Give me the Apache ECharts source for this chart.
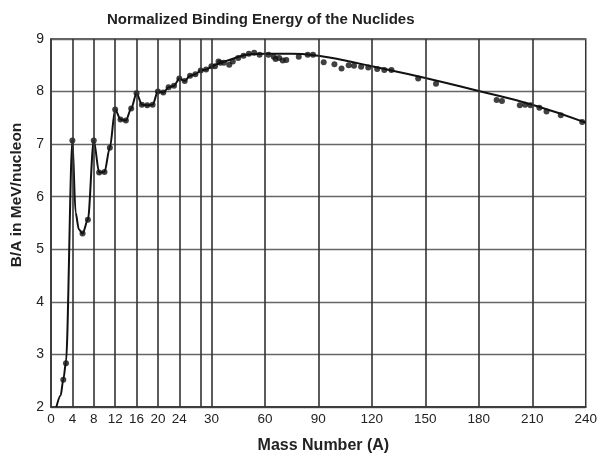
<!DOCTYPE html>
<html>
<head>
<meta charset="utf-8">
<script src="https://cdn.jsdelivr.net/npm/echarts@6/dist/echarts.min.js"></script>
<style>
  html, body { margin: 0; padding: 0; background: #fff; }
  #chart { width: 600px; height: 459px; }
</style>
</head>
<body>
<div id="chart"></div>
<script>
// ---------- data ----------
// curve through the light nuclides (mass number A, B/A in MeV)
const lightCurveA  = [1, 1.8, 2.3, 2.8, 4, 4.6, 5.2, 5.9, 6.9, 8, 9, 10, 11, 12, 13, 14, 15, 16, 17, 18, 19, 20,
                      21, 22, 23, 24, 25, 26, 27, 28, 29, 30];
const lightCurveBE = [2.0, 2.22, 2.52, 2.85, 7.07, 5.7, 5.38, 5.3, 5.56, 7.07, 6.46, 6.47, 6.93, 7.66, 7.47, 7.45, 7.68, 7.97, 7.75, 7.74, 7.75, 8.0,
                      7.98, 8.08, 8.11, 8.25, 8.2, 8.3, 8.33, 8.4, 8.42, 8.48];
// smooth curve for the heavier ones
const heavyCurveA  = [30, 40, 52, 60, 75, 90, 105, 120, 150, 180, 210, 240];
const heavyCurveBE = [8.48, 8.6, 8.71, 8.72, 8.72, 8.68, 8.59, 8.48, 8.26, 8.01, 7.75, 7.41];

// measured points
const pointA  = [2.3, 2.8, 4, 5.9, 6.9, 8, 9, 10, 11, 12, 13, 14, 15, 16, 17, 18, 19, 20, 21, 22,
                 23, 24, 25, 26, 27, 28, 29, 30, 32, 34, 35, 37, 40, 42, 45, 48, 51, 54, 57,
                 62, 65, 66, 68, 70, 72, 79, 84, 87, 93, 99, 103, 107, 110, 114, 118, 123,
                 127, 131, 146, 156, 190, 193, 203, 206, 209, 214, 218, 226, 238];
const pointBE = [2.52, 2.83, 7.07, 5.3, 5.56, 7.07, 6.46, 6.47, 6.93, 7.66, 7.47, 7.45, 7.68, 7.97, 7.75, 7.74, 7.75, 8.0, 7.98, 8.08,
                 8.11, 8.25, 8.2, 8.3, 8.33, 8.4, 8.42, 8.48, 8.48, 8.57, 8.55, 8.55, 8.51, 8.57, 8.64, 8.68, 8.72, 8.74, 8.7,
                 8.7, 8.66, 8.62, 8.64, 8.59, 8.6, 8.66, 8.7, 8.7, 8.56, 8.52, 8.44, 8.5, 8.49, 8.47, 8.46, 8.43,
                 8.41, 8.41, 8.25, 8.15, 7.84, 7.82, 7.74, 7.75, 7.74, 7.69, 7.62, 7.55, 7.42];

// axis labels and vertical grid lines (in mass number)
const xTickA = [0, 4, 8, 12, 16, 20, 24, 30, 60, 90, 120, 150, 180, 210, 240];
const xGridA = [4, 8, 12, 16, 20, 24, 28, 30, 60, 90, 120, 150, 180, 210];

// the x scale is stretched below A = 30 (30 units of A above 30 take the room of 10)
function toU(a) { return a <= 30 ? a : 30 + (a - 30) / 3; }
function toA(u) { return u <= 30 ? u : 30 + (u - 30) * 3; }

var chart = echarts.init(document.getElementById('chart'));

const option = {
  animation: false,
  title: {
    text: 'Normalized Binding Energy of the Nuclides',
    left: 102,
    top: 7,
    textStyle: { fontFamily: 'Liberation Sans', fontSize: 15, fontWeight: 'bold', color: '#222' }
  },
  grid: {
    left: 51, right: 12, top: 39, bottom: 46,
    show: true, borderColor: '#333', borderWidth: 1.5
  },
  xAxis: {
    type: 'value',
    min: 0, max: 100, interval: 2,
    name: 'Mass Number (A)',
    nameLocation: 'middle',
    nameGap: 31,
    nameTextStyle: { fontFamily: 'Liberation Sans', fontSize: 16, fontWeight: 'bold', color: '#222', padding: [0, 0, 0, 10] },
    axisLine: { lineStyle: { color: '#333', width: 1.5 } },
    axisTick: { show: false },
    splitLine: { show: false },
    axisLabel: {
      margin: 5,
      fontFamily: 'Liberation Sans', fontSize: 13.5, color: '#222',
      formatter: function (u) {
        const a = Math.round(toA(u));
        return xTickA.indexOf(a) >= 0 && Math.abs(toU(a) - u) < 0.01 ? String(a) : '';
      }
    }
  },
  yAxis: {
    type: 'value',
    min: 2, max: 9, interval: 1,
    name: 'B/A in MeV/nucleon',
    nameLocation: 'middle',
    nameGap: 26,
    nameTextStyle: { fontFamily: 'Liberation Sans', fontSize: 15.5, fontWeight: 'bold', color: '#222', padding: [0, 0, 0, 56] },
    axisLine: { lineStyle: { color: '#333', width: 1.5 } },
    axisTick: { show: false },
    axisLabel: { margin: 7, fontFamily: 'Liberation Sans', fontSize: 14, color: '#222' },
    splitLine: { lineStyle: { color: '#666', width: 1.3 } }
  },
  series: [
    {
      // vertical grid lines
      type: 'line',
      data: [],
      z: 1,
      markLine: {
        silent: true,
        symbol: 'none',
        label: { show: false },
        lineStyle: { color: '#333', width: 1.6, type: 'solid' },
        data: xGridA.map(a => ({ xAxis: toU(a) }))
      }
    },
    {
      type: 'line',
      data: lightCurveA.map((a, i) => [toU(a), lightCurveBE[i]]),
      smooth: 0.3,
      smoothMonotone: 'x',
      showSymbol: false,
      lineStyle: { color: '#111', width: 2 },
      z: 3
    },
    {
      type: 'line',
      data: heavyCurveA.map((a, i) => [toU(a), heavyCurveBE[i]]),
      smooth: 0.5,
      showSymbol: false,
      lineStyle: { color: '#111', width: 2 },
      z: 3
    },
    {
      type: 'scatter',
      data: pointA.map((a, i) => [toU(a), pointBE[i]]),
      symbolSize: 6,
      itemStyle: { color: '#111' },
      z: 4
    }
  ]
};

chart.setOption(option);
</script>
</body>
</html>
